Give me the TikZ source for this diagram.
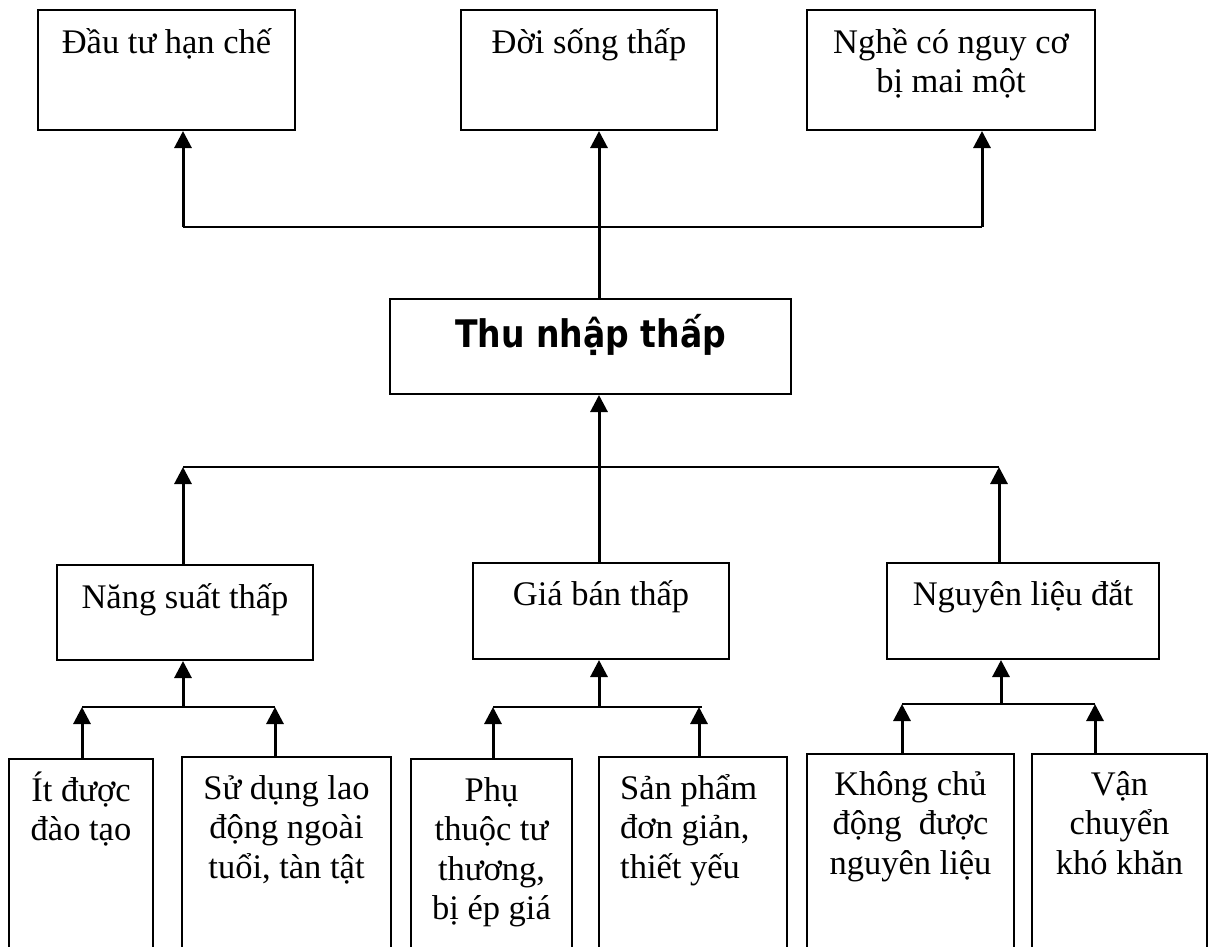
\documentclass[tikz,border=0pt]{standalone}
\usepackage{fontspec}
\setmainfont{Liberation Serif}
\newfontfamily\tnfont[FakeStretch=0.87]{DejaVu Sans}
\usetikzlibrary{arrows.meta}
\newcommand\mytb[2]{\parbox[t]{#1}{\centering #2}}
\tikzset{
  box/.style={draw, line width=2pt, rectangle, inner sep=0pt},
  txt/.style={inner sep=0pt, anchor=base, font=\fontsize{34.5}{39.5}\selectfont},
  hline/.style={line width=2.2pt},
  arr/.style={line width=3pt, -{Triangle[width=17pt,length=17pt]}},
}
\begin{document}
\begin{tikzpicture}[x=1pt,y=-1pt]
\useasboundingbox (0,0) rectangle (1211,946);
\fill[white] (0,0) rectangle (1211,946);
\clip (0,0) rectangle (1211,946);

% top boxes
\node[box, minimum width=257pt, minimum height=120pt] (b1) at (166.5,70) {};
\node[box, minimum width=256pt, minimum height=120pt] (b2) at (589,70) {};
\node[box, minimum width=288pt, minimum height=120pt] (b3) at (951,70) {};
\node[txt] (t1) at (166.5,53) {Đầu tư hạn chế};
\node[txt] (t2) at (589,53) {Đời sống thấp};
\node[txt] (t3) at (951,53) {\mytb{280pt}{Nghề có nguy cơ\\bị mai một}};

% central box
\node[box, minimum width=401pt, minimum height=95pt] (tn) at (590.5,346.5) {};
\node[inner sep=0pt, anchor=base, font=\tnfont\bfseries\fontsize{38}{44}\selectfont] (ttn) at (590.5,347) {Thu nhập thấp};

% middle boxes
\node[box, minimum width=256pt, minimum height=95pt] (ns) at (185,612.5) {};
\node[box, minimum width=256pt, minimum height=96pt] (gb) at (601,611) {};
\node[box, minimum width=272pt, minimum height=96pt] (nl) at (1023,611) {};
\node[txt] (tns) at (185,608) {Năng suất thấp};
\node[txt] (tgb) at (601,605) {Giá bán thấp};
\node[txt] (tnl) at (1023,605) {Nguyên liệu đắt};

% bottom boxes
\node[box, minimum width=144pt, minimum height=211pt] (it) at (81,864.5) {};
\node[box, minimum width=209pt, minimum height=213pt] (sd) at (286.5,863.5) {};
\node[box, minimum width=161pt, minimum height=211pt] (pt) at (491.5,864.5) {};
\node[box, minimum width=188pt, minimum height=213pt] (sp) at (693,863.5) {};
\node[box, minimum width=207pt, minimum height=216pt] (kc) at (910.5,862) {};
\node[box, minimum width=175pt, minimum height=216pt] (vc) at (1119.5,862) {};
\node[txt] (tit) at (81,801) {\mytb{140pt}{Ít được\\đào tạo}};
\node[txt] (tsd) at (286.5,799) {\mytb{205pt}{Sử dụng lao\\động ngoài\\tuổi, tàn tật}};
\node[txt] (tpt) at (491.5,801) {\mytb{158pt}{Phụ\\thuộc tư\\thương,\\bị ép giá}};
\node[txt, anchor=base west] (tsp) at (620,799) {\parbox[t]{160pt}{\raggedright Sản phẩm\\đơn giản,\\thiết yếu}};
\node[txt] (tkc) at (910.5,795) {\mytb{205pt}{Không chủ\\động\ \ được\\nguyên liệu}};
\node[txt] (tvc) at (1119.5,795) {\mytb{172pt}{Vận\\chuyển\\khó khăn}};

% top connectors
\coordinate (j1) at (183,227);
\coordinate (j2) at (599,227);
\coordinate (j3) at (982,227);
\draw[hline] (j1) -- (j3);
\draw[arr] (j1) -- (j1 |- b1.south);
\draw[arr] (j3) -- (j3 |- b3.south);
\draw[arr] (j2 |- tn.north) -- (j2 |- b2.south);

% middle connectors
\coordinate (k1) at (183,467);
\coordinate (k2) at (599,467);
\coordinate (k3) at (999,467);
\draw[hline] (k1) -- (k3);
\draw[arr] (k1 |- ns.north) -- (k1);
\draw[arr] (k3 |- nl.north) -- (k3);
\draw[arr] (k2 |- gb.north) -- (k2 |- tn.south);

% lower connectors: Nang suat
\coordinate (p0) at (183,707);
\coordinate (p1) at (82,707);
\coordinate (p2) at (275,707);
\draw[hline] (p1) -- (p2);
\draw[arr] (p0) -- (p0 |- ns.south);
\draw[arr] (p1 |- it.north) -- (p1);
\draw[arr] (p2 |- sd.north) -- (p2);

% lower connectors: Gia ban
\coordinate (q0) at (599,707);
\coordinate (q1) at (493,707);
\coordinate (q2) at (699,707);
\coordinate (q3) at (702,707);
\draw[hline] (q1) -- (q3);
\draw[arr] (q0) -- (q0 |- gb.south);
\draw[arr] (q1 |- pt.north) -- (q1);
\draw[arr] (q2 |- sp.north) -- (q2);

% lower connectors: Nguyen lieu
\coordinate (r0) at (1001,704);
\coordinate (r1) at (902,704);
\coordinate (r2) at (1095,704);
\draw[hline] (r1) -- (r2);
\draw[arr] (r0) -- (r0 |- nl.south);
\draw[arr] (r1 |- kc.north) -- (r1);
\draw[arr] (r2 |- vc.north) -- (r2);
\end{tikzpicture}
\end{document}
